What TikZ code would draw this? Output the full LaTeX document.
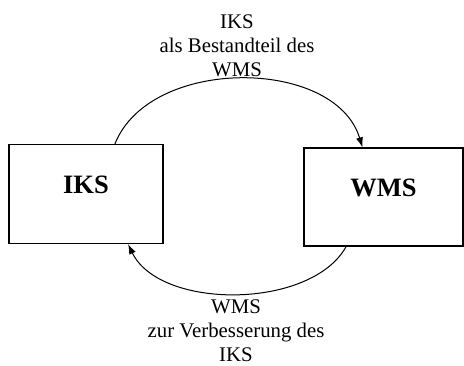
\documentclass[tikz,border=0pt]{standalone}
\usepackage{fontspec}
\setmainfont{Liberation Serif}
\usepackage{xcolor}
\usepackage{tikz}
\usetikzlibrary{
  arrows.meta,
  positioning
}
\tikzset{
  sys nd/.style={
    rectangle, draw=black, line width=1.3pt, align=center,
    font=\fontsize{26.5}{28}\selectfont\bfseries,
    text height=17pt, text depth=19pt
  },
  flow lbl/.style={
    align=center, font=\fontsize{20.8}{24}\selectfont
  },
  arr/.style={-{Latex[length=10pt,width=7pt]}, line width=1pt}
}

\begin{document}
\begin{tikzpicture}[x=1pt, y=-1pt]
  \useasboundingbox (0,0) rectangle (464,365);

  \node[sys nd, minimum width=154pt, minimum height=99pt] (iks) at (86,194) {IKS};
  \node[sys nd, minimum width=159pt, minimum height=98pt] (wms) at (383.5,197) {WMS};

  \node[flow lbl] (topLbl) at (237,46) {IKS\\als Bestandteil des\\WMS};
  \node[flow lbl] (botLbl) at (236,331) {WMS\\zur Verbesserung des\\IKS};

  \draw[arr] (iks.60) .. controls +(35,-88) and +(-27,-90) .. (wms.113);
  \draw[arr] (wms.233) .. controls +(-35,63) and +(32,66) .. (iks.310);

\end{tikzpicture}
\end{document}
